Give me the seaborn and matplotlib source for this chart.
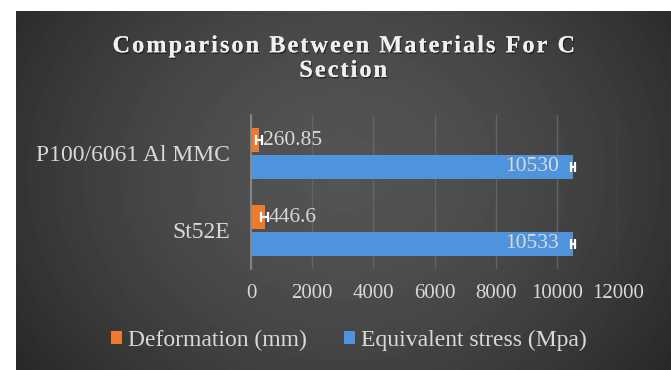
import numpy as np
import pandas as pd
import matplotlib
matplotlib.use("Agg")
import matplotlib.pyplot as plt
import matplotlib.patheffects as pe
from matplotlib.patches import Patch
import seaborn as sns

# ---- data ----
materials = ["P100/6061 Al MMC", "St52E"]
metrics = ["Deformation (mm)", "Equivalent stress (Mpa)"]
deformation = [260.85, 446.6]
equivalent_stress = [10530, 10533]
deformation_err = [110, 110]
stress_err = [60, 60]
x_ticks = [0, 2000, 4000, 6000, 8000, 10000, 12000]
title = "Comparison Between Materials For C\nSection"

orange = "#ee7b2c"
blue = "#4f93dc"
text_col = "#d9d9d9"
serif = ["Liberation Serif", "DejaVu Serif"]

df = pd.DataFrame({
    "material": materials * 2,
    "metric": [metrics[0]] * len(materials) + [metrics[1]] * len(materials),
    "value": deformation + equivalent_stress,
})

sns.set_theme(style="white")
plt.rcParams["font.family"] = serif

W, H, DPI = 671, 370, 100
fig = plt.figure(figsize=(W / DPI, H / DPI), dpi=DPI, facecolor="white")

# dark chart panel with a soft radial shading
bg = fig.add_axes([16 / W, 0, (W - 16) / W, (H - 11) / H], zorder=-5)
ny, nx = 359, 655
yy, xx = np.mgrid[0:ny, 0:nx]
r = np.sqrt(((xx - nx * 0.5) / (nx * 0.62)) ** 2 + ((yy - ny * 0.45) / (ny * 0.95)) ** 2)
shade = 0x54 - (0x54 - 0x27) * np.clip(r, 0, 1) ** 1.6
bg.imshow(shade, cmap="gray", vmin=0, vmax=255, aspect="auto", interpolation="bilinear")
bg.set_axis_off()

ax = fig.add_axes([251 / W, 1 - 269 / H, (618 - 251) / W, (269 - 115) / H])
ax.set_facecolor("none")

sns.barplot(
    data=df, y="material", x="value", hue="metric",
    order=materials, hue_order=metrics, palette=[orange, blue],
    orient="h", width=0.7, gap=0.14, errorbar=None, saturation=1,
    linewidth=0, ax=ax, legend=False,
)

ax.set_xlim(0, 12000)
ax.set_ylim(1.5, -0.5)
ax.set_xticks(x_ticks)
ax.set_xticklabels([str(t) for t in x_ticks])
ax.set_xlabel("")
ax.set_ylabel("")
ax.grid(axis="x", color="#646464", linewidth=1)
ax.grid(axis="y", visible=False)
ax.set_axisbelow(True)
for s in ["top", "right", "bottom"]:
    ax.spines[s].set_visible(False)
ax.spines["left"].set_color("#8e8e8e")
ax.spines["left"].set_linewidth(1.2)
ax.tick_params(axis="x", length=0, pad=11, labelsize=15, labelcolor=text_col)
ax.tick_params(axis="y", length=0, pad=15, labelsize=17, labelcolor=text_col)

# error bars at the bar ends
def_bars, stress_bars = ax.containers[0], ax.containers[1]
for bars, vals, errs in [(def_bars, deformation, deformation_err),
                         (stress_bars, equivalent_stress, stress_err)]:
    ys = [p.get_y() + p.get_height() / 2 for p in bars.patches]
    ax.errorbar(vals, ys, xerr=errs, fmt="none", ecolor="white",
                elinewidth=1.6, capsize=3.3, capthick=1.6, zorder=5)

# value labels
ax.bar_label(def_bars, labels=[f"{v:g}" for v in deformation], padding=3,
             color=text_col, fontsize=15.5)
inside = ax.bar_label(stress_bars, labels=[f"{v:g}" for v in equivalent_stress],
                      padding=-10, color=text_col, fontsize=15.5)
for t in inside:
    t.set_ha("right")

# legend
handles = [Patch(facecolor=orange, edgecolor="none"), Patch(facecolor=blue, edgecolor="none")]
fig.legend(handles, metrics, loc="center", bbox_to_anchor=(349 / W, 1 - 340 / H),
           ncol=2, frameon=False, fontsize=17, labelcolor=text_col,
           handlelength=0.45, handleheight=0.45, handletextpad=0.25, columnspacing=1.6)

# title with widened letter spacing
spaced = "\n".join("\u200a".join(line) for line in title.split("\n"))
fig.text(343 / W, 1 - 59 / H, spaced, ha="center", va="center", fontsize=17.5,
         fontweight="bold", color="#f0f0f0", family=serif, linespacing=1.22,
         path_effects=[pe.withSimplePatchShadow(offset=(0.8, -1.2), shadow_rgbFace="black", alpha=0.45),
                       pe.Normal()])

fig.savefig("out.png", dpi=DPI, facecolor="white")
